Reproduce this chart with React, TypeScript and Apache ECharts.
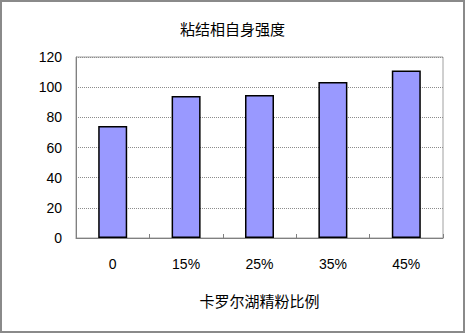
import React, { useEffect, useRef } from "react";
import * as echarts from "echarts";

const categories = ["0", "15%", "25%", "35%", "45%"];
const strengthValues = [74.3, 94.2, 94.8, 103.4, 111];
const yTicks = [0, 20, 40, 60, 80, 100, 120];
const titleText = "粘结相自身强度";
const xAxisName = "卡罗尔湖精粉比例";

export default function App() {
  const ref = useRef<HTMLDivElement>(null);
  useEffect(() => {
    document.body.style.margin = "0";
    const chart = echarts.init(ref.current!, null, { renderer: "svg" });
    chart.setOption({
      animation: false,
      backgroundColor: "transparent",
      title: {
        text: titleText,
        left: "center",
        top: 16,
        textStyle: {
          fontFamily: "Noto Sans CJK SC",
          fontSize: 15,
          fontWeight: "normal",
          color: "#000",
        },
      },
      grid: {
        left: 76,
        right: 22,
        top: 57,
        bottom: 95,
        show: true,
        borderColor: "#a0a0a0",
        borderWidth: 1,
        backgroundColor: "transparent",
      },
      xAxis: {
        type: "category",
        data: categories,
        name: xAxisName,
        nameLocation: "middle",
        nameGap: 55,
        nameTextStyle: {
          fontFamily: "Noto Sans CJK SC",
          fontSize: 15,
          color: "#000",
        },
        axisLine: { lineStyle: { color: "#808080", width: 1 } },
        axisTick: { show: true, inside: true, length: 4, lineStyle: { color: "#808080" } },
        axisLabel: {
          margin: 19,
          fontFamily: "Liberation Sans",
          fontSize: 14,
          color: "#000",
        },
      },
      yAxis: {
        type: "value",
        min: yTicks[0],
        max: yTicks[yTicks.length - 1],
        interval: 20,
        axisLine: { show: true, lineStyle: { color: "#808080", width: 1 } },
        axisTick: { show: false },
        axisLabel: {
          margin: 14,
          fontFamily: "Liberation Sans",
          fontSize: 14,
          color: "#000",
        },
        splitLine: {
          show: true,
          lineStyle: { color: "#8c8c8c", width: 1, type: [1, 1] },
        },
      },
      series: [
        {
          type: "bar",
          data: strengthValues,
          barWidth: 29,
          itemStyle: {
            color: "#9999FF",
            borderColor: "#000000",
            borderWidth: 1.5,
          },
        },
      ],
    });
    return () => chart.dispose();
  }, []);
  return (
    <div style={{ position: "absolute", left: 0, top: 0, width: 465, height: 333, background: "#fff" }}>
      <div ref={ref} style={{ position: "absolute", left: 0, top: 0, width: 465, height: 333 }} />
      <div
        style={{
          position: "absolute",
          left: 0,
          top: 0,
          width: 465,
          height: 333,
          boxSizing: "border-box",
          border: "2px solid #8a8a8a",
          pointerEvents: "none",
        }}
      />
    </div>
  );
}
